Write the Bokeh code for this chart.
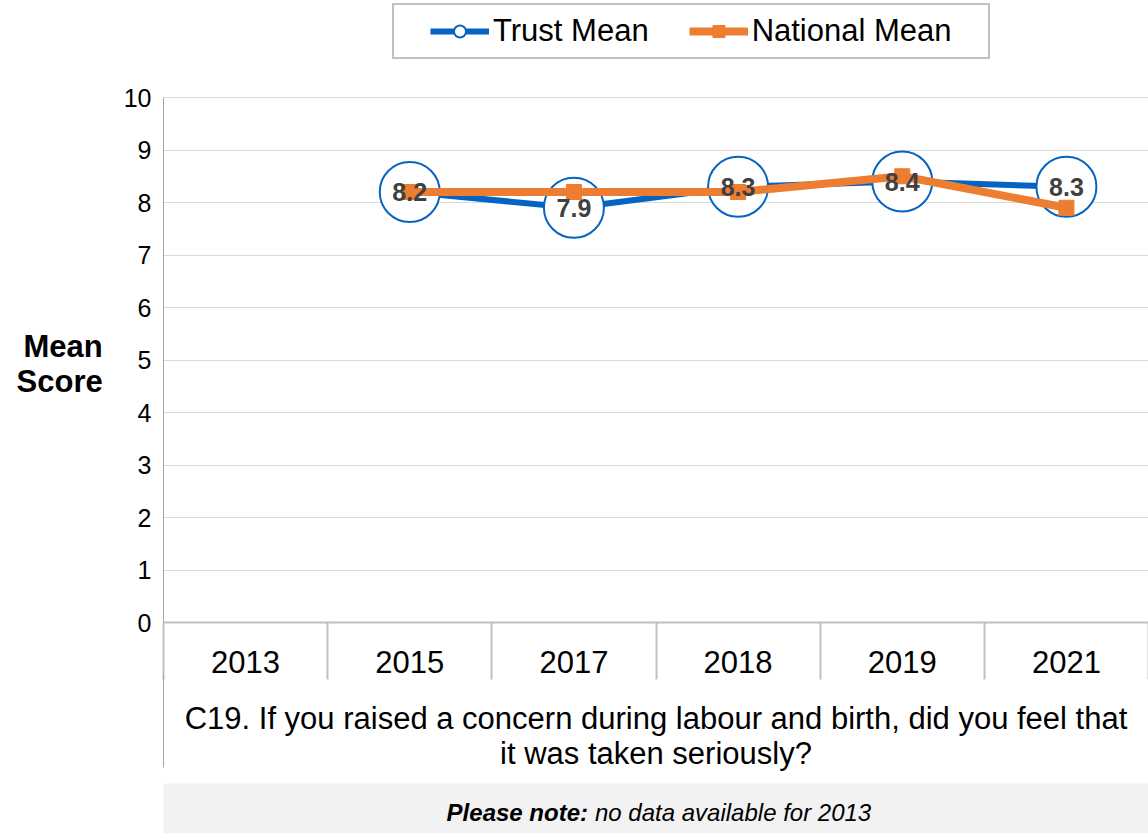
import numpy as np
from bokeh.plotting import figure
from bokeh.layouts import column, row
from bokeh.models import (Range1d, FixedTicker, Legend, LegendItem, ColumnDataSource,
                          LinearAxis, Label, Spacer)
from bokeh.core.properties import value
from bokeh.embed import file_html
from bokeh.resources import INLINE

# ---------------- data ----------------
years = ["2013", "2015", "2017", "2018", "2019", "2021"]
trust_mean = [np.nan, 8.2, 7.9, 8.3, 8.4, 8.3]
national_mean = [np.nan, 8.2, 8.2, 8.2, 8.5, 7.9]
y_ticks = list(range(0, 11))
series_names = ["Trust Mean", "National Mean"]
question = ("C19. If you raised a concern during labour and birth, did you feel that\n"
            "it was taken seriously?")
y_title = "Mean\nScore"
note_bold = "Please note:"
note_rest = "no data available for 2013"

# ---------------- style ----------------
FONT = "Liberation Sans"
BLUE = "#0563C1"
ORANGE = "#ED7D31"
GRID = "#D9D9D9"
AXIS = "#BFBFBF"

W, H = 1148, 783
BL, BB = 163, 161
PLOT_TOP = 97            # pixel row of the top gridline
NOTE_H = 50
frame_h = H - BB
px = (max(y_ticks) - min(y_ticks)) / (frame_h - PLOT_TOP)   # data units per pixel

xs = list(range(len(years)))
bounds = [i - 0.5 for i in range(len(years) + 1)]
labels = ["" if np.isnan(v) else f"{v:.1f}" for v in trust_mean]
src = ColumnDataSource(dict(x=xs, trust=trust_mean, national=national_mean, label=labels))

p = figure(width=W, height=H, output_backend="svg", toolbar_location=None,
           x_range=Range1d(bounds[0], bounds[-1]),
           y_range=Range1d(min(y_ticks), max(y_ticks) + PLOT_TOP * px),
           min_border_left=BL, min_border_right=0, min_border_top=0, min_border_bottom=BB,
           outline_line_color=None, background_fill_color="white", border_fill_color="white")

bl = p.line("x", "trust", source=src, line_color=BLUE, line_width=6, line_join="round")
circ = p.scatter("x", "trust", source=src, marker="circle", size=60, fill_color="white",
                 line_color=BLUE, line_width=2)
ol = p.line("x", "national", source=src, line_color=ORANGE, line_width=8, line_join="round")
sq = p.scatter("x", "national", source=src, marker="square", size=15, fill_color=ORANGE,
               line_color=ORANGE)
p.text("x", "trust", text="label", source=src, text_font=value(FONT), text_font_style="bold",
       text_font_size="25px", text_color="#404040", text_align="center", text_baseline="middle")

# grid
p.xgrid.visible = False
p.ygrid.grid_line_color = GRID
p.ygrid.grid_line_width = 1

# y axis
ya = p.yaxis[0]
ya.ticker = FixedTicker(ticks=y_ticks)
ya.bounds = (min(y_ticks), max(y_ticks))
ya.major_tick_out = 0
ya.major_tick_in = 0
ya.minor_tick_line_color = None
ya.axis_line_color = "#A6A6A6"
ya.major_label_text_font = FONT
ya.major_label_text_font_size = "25px"
ya.major_label_text_color = "black"
ya.major_label_standoff = 12
# leading blank lines push the (frame-centred) title down to the middle of the 0-10 scale
ya.axis_label = "\u00a0\n\u00a0\n\u00a0\n" + y_title
ya.axis_label_orientation = "horizontal"
ya.axis_label_text_font = FONT
ya.axis_label_text_font_size = "31px"
ya.axis_label_text_font_style = "bold"
ya.axis_label_text_color = "black"
ya.axis_label_standoff = 18
ya.axis_label_text_line_height = 1.0

# x axis: year labels + category separators
xa = p.xaxis[0]
xa.ticker = FixedTicker(ticks=xs, minor_ticks=bounds)
xa.major_label_overrides = {i: y for i, y in zip(xs, years)}
xa.major_tick_line_color = None
xa.major_tick_out = 0
xa.major_tick_in = 0
xa.minor_tick_out = 57
xa.minor_tick_in = 0
xa.minor_tick_line_color = AXIS
xa.minor_tick_line_width = 2
xa.axis_line_color = AXIS
xa.axis_line_width = 2
xa.major_label_text_font = FONT
xa.major_label_text_font_size = "31px"
xa.major_label_text_color = "black"
xa.major_label_standoff = -29

# second axis below: left rule + question text
qa = LinearAxis(ticker=FixedTicker(ticks=[], minor_ticks=[bounds[0]]))
qa.axis_line_color = None
qa.major_tick_line_color = None
qa.major_tick_out = 0
qa.major_tick_in = 0
qa.minor_tick_out = 92
qa.minor_tick_in = 0
qa.minor_tick_line_color = "#A6A6A6"
qa.minor_tick_line_width = 1
qa.major_label_text_font_size = "0px"
qa.axis_label = question
qa.axis_label_text_font = FONT
qa.axis_label_text_font_size = "31px"
qa.axis_label_text_font_style = "normal"
qa.axis_label_text_color = "black"
qa.axis_label_standoff = -67
qa.axis_label_text_line_height = 1.0
p.add_layout(qa, "below")

legend = Legend(items=[LegendItem(label=series_names[0], renderers=[bl, circ]),
                       LegendItem(label=series_names[1], renderers=[ol, sq])],
                orientation="horizontal", location=(258, frame_h - 59),
                label_text_font=FONT, label_text_font_size="31px", label_text_color="black",
                glyph_width=59, glyph_height=30, label_standoff=4, spacing=40, padding=8,
                border_line_color="#7F7F7F", border_line_width=2, background_fill_alpha=1,
                margin=0)
try:
    legend.padding = dict(left=36, right=36, top=8, bottom=8)
    legend.location = (229, frame_h - 59)
except Exception:
    legend.padding = 8
p.add_layout(legend)

# note box
note = figure(width=W - BL, height=NOTE_H, output_backend="svg", toolbar_location=None,
              x_range=Range1d(0, 1), y_range=Range1d(0, 1), min_border=0,
              background_fill_color="#F2F2F2", border_fill_color="#F2F2F2",
              outline_line_color=None)
note.axis.visible = False
note.grid.visible = False
note.add_layout(Label(x=0.5, y=0.5, x_offset=-68, y_offset=-4, text=note_bold, text_font=FONT,
                      text_font_size="24px", text_font_style="bold italic", text_color="black",
                      text_align="right", text_baseline="middle"))
note.add_layout(Label(x=0.5, y=0.5, x_offset=-61, y_offset=-4, text=note_rest, text_font=FONT,
                      text_font_size="24px", text_font_style="italic", text_color="black",
                      text_align="left", text_baseline="middle"))

page = column(p, row(Spacer(width=BL, height=NOTE_H), note))

open("out.html", "w").write(file_html(page, INLINE))
